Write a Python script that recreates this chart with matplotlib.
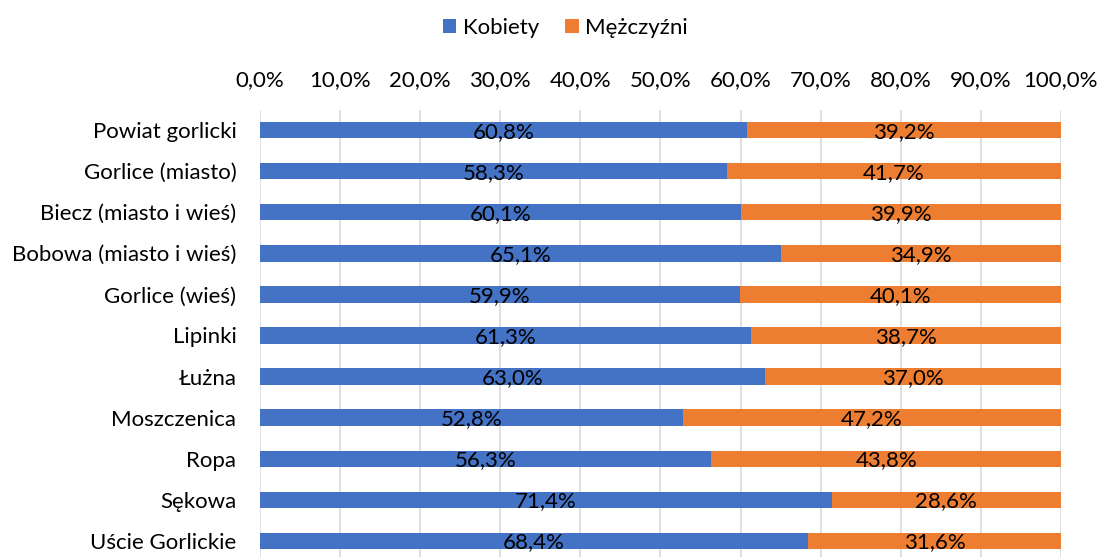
import matplotlib.pyplot as plt
from matplotlib.ticker import FuncFormatter

plt.rcParams['font.family'] = ['Lato', 'DejaVu Sans']

gminy = ['Powiat gorlicki', 'Gorlice (miasto)', 'Biecz (miasto i wieś)',
         'Bobowa (miasto i wieś)', 'Gorlice (wieś)', 'Lipinki', 'Łużna',
         'Moszczenica', 'Ropa', 'Sękowa', 'Uście Gorlickie']
kobiety = [60.8, 58.3, 60.1, 65.1, 59.9, 61.3, 63.0, 52.8, 56.3, 71.4, 68.4]
mezczyzni = [39.2, 41.7, 39.9, 34.9, 40.1, 38.7, 37.0, 47.2, 43.8, 28.6, 31.6]

blue = '#4472C4'
orange = '#ED7D31'


def pct(v):
    return f'{v:.1f}%'.replace('.', ',')


fig = plt.figure(figsize=(11, 5.57), dpi=100)
ax = fig.add_axes([0.2364, -0.008, 0.7281, 0.8114])

y = range(len(gminy))
b1 = ax.barh(y, kobiety, height=0.4, color=blue, label='Kobiety', zorder=2)
b2 = ax.barh(y, mezczyzni, left=kobiety, height=0.4, color=orange,
             label='Mężczyźni', zorder=2)

for bars, vals in ((b1, kobiety), (b2, mezczyzni)):
    for bar, v in zip(bars, vals):
        ax.text(bar.get_x() + bar.get_width() / 2, bar.get_y() + bar.get_height() / 2 + 0.04,
                pct(v), ha='center', va='center', fontsize=16, color='black', zorder=3)

ax.set_xlim(0, 100)
ax.set_ylim(len(gminy) - 0.5, -0.5)
ax.set_xticks(range(0, 101, 10))
ax.xaxis.set_major_formatter(FuncFormatter(lambda v, _: pct(v)))
ax.xaxis.tick_top()
ax.tick_params(axis='x', length=0, pad=14, labelsize=16)
ax.tick_params(axis='y', length=0, pad=17, labelsize=16)
ax.set_yticks(list(y))
ax.set_yticklabels(gminy)
ax.grid(axis='x', color='#D9D9D9', linewidth=1.2, zorder=0)
for s in ax.spines.values():
    s.set_visible(False)

fig.legend(handles=[b1, b2], loc='center', bbox_to_anchor=(0.514, 0.95), ncol=2,
           frameon=False, fontsize=16, handlelength=0.6, handleheight=0.6,
           handletextpad=0.3, columnspacing=1.2)

fig.savefig('out.png', dpi=100)
